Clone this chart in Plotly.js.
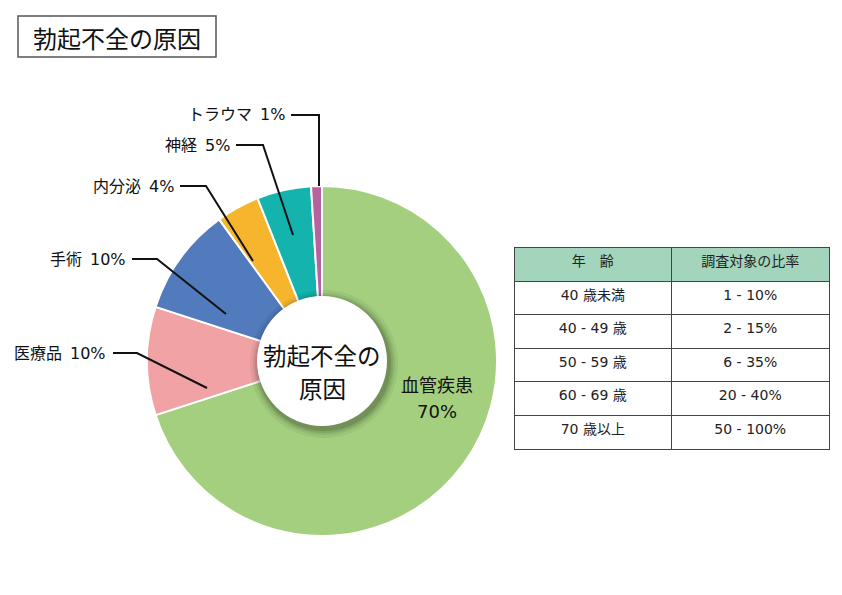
<!DOCTYPE html>
<html><head><meta charset="utf-8">
<script src="https://cdn.plot.ly/plotly-3.0.1.min.js"></script>
<style>html,body{margin:0;padding:0;background:#fff}#chart{width:842px;height:595px}</style>
</head><body><div id="chart"></div>
<script>
// ---- data ----
const causes = ['血管疾患', '医療品', '手術', '内分泌', '神経', 'トラウマ'];
const shares = [70, 10, 10, 4, 5, 1];
const chartTitle = '勃起不全の原因';
const centerLines = ['勃起不全の', '原因'];
const tableHeaders = ['年　齢', '調査対象の比率'];
const ageGroups = ['40 歳未満', '40 - 49 歳', '50 - 59 歳', '60 - 69 歳', '70 歳以上'];
const ratioRanges = ['1 - 10%', '2 - 15%', '6 - 35%', '20 - 40%', '50 - 100%'];

// ---- styles / layout ----
const sliceColors = ['#a3cf7e', '#f1a2a4', '#517bbd', '#f7b52e', '#14b3ae', '#b5629e'];
const FONT = '"Noto Sans CJK JP", "Noto Sans", sans-serif';
const NUMFONT = '"DejaVu Sans", "Noto Sans CJK JP", sans-serif';
const W = 842, H = 595;
const px = x => x / W, py = y => 1 - y / H;
const pie = {cx: 322, cy: 361, r: 175, hole: 0.36};
// label layout for outer labels (index into causes): text right edge, line elbow, tip
const outerLabels = [
  {i: 5, tx: 286, ty: 115, x0: 291, x1: 319, tipx: 319, tipy: 186},
  {i: 4, tx: 231, ty: 145, x0: 236, x1: 263, tipx: 293, tipy: 235},
  {i: 3, tx: 175, ty: 186, x0: 180, x1: 206, tipx: 253, tipy: 261},
  {i: 2, tx: 127, ty: 259, x0: 132, x1: 157, tipx: 226, tipy: 314},
  {i: 1, tx: 107, ty: 353, x0: 113, x1: 137, tipx: 207, tipy: 388}
];

const traces = [
  {
    type: 'pie',
    labels: causes,
    values: shares,
    sort: false,
    direction: 'clockwise',
    rotation: 0,
    hole: pie.hole,
    textinfo: 'none',
    hoverinfo: 'none',
    marker: {colors: sliceColors, line: {color: '#ffffff', width: 2}},
    domain: {x: [px(pie.cx - pie.r), px(pie.cx + pie.r)], y: [py(pie.cy + pie.r), py(pie.cy - pie.r)]},
    showlegend: false
  },
  {
    type: 'table',
    domain: {x: [px(514), px(830)], y: [py(452), py(247)]},
    columnwidth: [1, 1],
    header: {
      values: tableHeaders,
      fill: {color: '#a2d5bb'},
      line: {color: '#444', width: 1},
      align: 'center',
      height: 34,
      font: {family: FONT, size: 14, color: '#222'}
    },
    cells: {
      values: [ageGroups, ratioRanges],
      fill: {color: '#ffffff'},
      line: {color: '#444', width: 1},
      align: 'center',
      height: 33.6,
      font: {family: NUMFONT, size: 14, color: '#222'}
    }
  }
];

const shapes = [];
const annotations = [];

// title box
shapes.push({type: 'rect', xref: 'paper', yref: 'paper', x0: px(18), x1: px(216), y0: py(57), y1: py(16),
  line: {color: '#555', width: 1.5}, fillcolor: 'rgba(0,0,0,0)'});
annotations.push({xref: 'paper', yref: 'paper', x: px(117), y: py(37), xanchor: 'center', yanchor: 'middle',
  text: chartTitle, showarrow: false, font: {family: FONT, size: 24, color: '#111'}});

// center circle with soft shadow
const shadow = [[74, 0.05], [71, 0.07], [69, 0.09], [67, 0.12]];
shadow.forEach(([rr, op]) => shapes.push({type: 'circle', xref: 'paper', yref: 'paper',
  xsizemode: 'pixel', ysizemode: 'pixel', xanchor: px(pie.cx + 2), yanchor: py(pie.cy + 3),
  x0: -rr, x1: rr, y0: -rr, y1: rr, line: {width: 0}, fillcolor: `rgba(0,0,0,${op})`, layer: 'above'}));
shapes.push({type: 'circle', xref: 'paper', yref: 'paper', xsizemode: 'pixel', ysizemode: 'pixel',
  xanchor: px(pie.cx), yanchor: py(pie.cy), x0: -65, x1: 65, y0: -65, y1: 65,
  line: {width: 0}, fillcolor: '#ffffff', layer: 'above'});
[355, 388].forEach((yy, k) => annotations.push({xref: 'paper', yref: 'paper', x: px(pie.cx), y: py(yy),
  xanchor: 'center', yanchor: 'middle', text: centerLines[k], showarrow: false, borderpad: 0,
  font: {family: FONT, size: 23.5, color: '#111'}}));

// inside label for largest slice
annotations.push({xref: 'paper', yref: 'paper', x: px(437), y: py(384), xanchor: 'center', yanchor: 'middle',
  text: causes[0], showarrow: false, borderpad: 0, font: {family: FONT, size: 18, color: '#111'}});
annotations.push({xref: 'paper', yref: 'paper', x: px(437), y: py(411), xanchor: 'center', yanchor: 'middle',
  text: shares[0] + '%', showarrow: false, borderpad: 0, font: {family: NUMFONT, size: 18, color: '#111'}});

// outer labels + leader lines
outerLabels.forEach(L => {
  annotations.push({xref: 'paper', yref: 'paper', x: px(L.tx), y: py(L.ty), xanchor: 'right', yanchor: 'middle',
    text: causes[L.i] + '\u2002' + shares[L.i] + '%', showarrow: false, borderpad: 0,
    font: {family: NUMFONT, size: 16, color: '#111'}});
  shapes.push({type: 'path', xref: 'paper', yref: 'paper', layer: 'above',
    path: `M ${px(L.x0)} ${py(L.ty)} L ${px(L.x1)} ${py(L.ty)} L ${px(L.tipx)} ${py(L.tipy)}`,
    line: {color: '#111', width: 2}});
});

const layout = {
  width: W, height: H,
  margin: {l: 0, r: 0, t: 0, b: 0},
  paper_bgcolor: '#ffffff', plot_bgcolor: '#ffffff',
  font: {family: FONT},
  shapes, annotations
};
Plotly.newPlot('chart', traces, layout, {displayModeBar: false, staticPlot: true});
</script></body></html>
